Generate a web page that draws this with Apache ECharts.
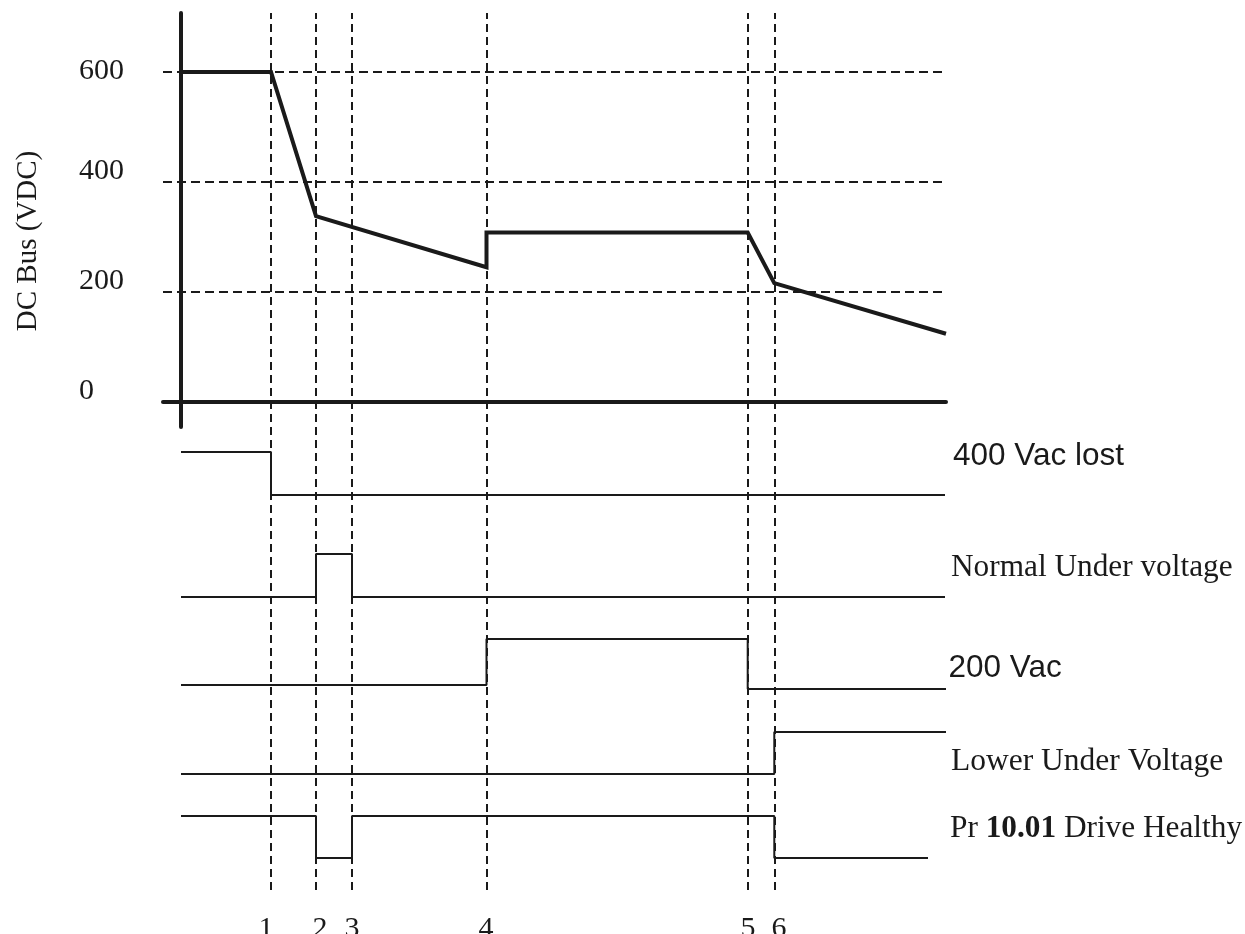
<!DOCTYPE html>
<html>
<head>
<meta charset="utf-8">
<script src="https://cdn.jsdelivr.net/npm/echarts@6/dist/echarts.min.js"></script>
<style>
html,body{margin:0;padding:0;background:#fff;}
#chart{width:1245px;height:934px;}
</style>
</head>
<body>
<div id="chart"></div>
<script>
// ---------- data ----------
const eventLabels = ['1', '2', '3', '4', '5', '6'];
const eventTimes = [9.0, 13.5, 17.1, 30.55, 56.67, 59.33];
const eventLabelTimes = [8.5, 13.9, 17.1, 30.5, 56.7, 59.8];
const voltTicks = [0, 200, 400, 600];
const voltGridLines = [200, 400, 600];

const dcTimes = [0, 9.0, 13.5, 30.55, 30.55, 56.67, 59.33, 76.5];
const dcVolts = [600, 600, 338, 245, 308, 308, 216, 124];

const signalNames = ['400 Vac lost', 'Normal Under voltage', '200 Vac', 'Lower Under Voltage', 'Pr {b|10.01} Drive Healthy'];

const acLostTimes = [0, 9.0, 76.4];
const acLostLevels = [1, 0, 0];
const normalUvTimes = [0, 13.5, 17.1, 76.4];
const normalUvLevels = [0, 1, 0, 0];
const ac200Times = [0, 30.55, 56.67, 76.5];
const ac200Levels = [0.08, 1, 0, 0];
const lowerUvTimes = [0, 59.33, 76.5];
const lowerUvLevels = [0, 1, 1];
const healthyTimes = [0, 13.5, 17.1, 59.33, 74.7];
const healthyLevels = [1, 0, 1, 0, 0];

// ---------- layout / style ----------
const SERIF = 'Liberation Serif';
const SANS = 'Liberation Sans';
const INK = '#1a1a1a';
const X_MIN = -1.8, X_MAX = 76.5;
const LEFT = 163, RIGHT = 299;

const signals = [
  {times: acLostTimes, levels: acLostLevels, top: 452, height: 43, lx: 953, ly: 456, font: SANS, size: 31.5},
  {times: normalUvTimes, levels: normalUvLevels, top: 554, height: 43, lx: 951, ly: 567.5, font: SERIF, size: 31.3},
  {times: ac200Times, levels: ac200Levels, top: 639, height: 50, lx: 948.5, ly: 668, font: SANS, size: 31.5},
  {times: lowerUvTimes, levels: lowerUvLevels, top: 732, height: 42, lx: 951, ly: 761.5, font: SERIF, size: 31.5},
  {times: healthyTimes, levels: healthyLevels, top: 816, height: 42, lx: 950, ly: 829, font: SERIF, size: 31.3}
];

const zip = (a, b) => a.map((v, i) => [v, b[i]]);

const gridBase = {left: LEFT, right: RIGHT, outerBoundsMode: 'none', containLabel: false};
const grids = [
  Object.assign({}, gridBase, {top: 13, height: 877}),   // overlay for event lines
  Object.assign({}, gridBase, {top: 13, height: 414})    // DC bus
];
const xAxes = [
  {
    type: 'value', gridIndex: 0, min: X_MIN, max: X_MAX,
    axisLine: {show: false}, axisTick: {show: false}, splitLine: {show: false},
    axisLabel: {
      customValues: eventLabelTimes,
      formatter: v => eventLabels[eventLabelTimes.indexOf(v)],
      fontFamily: SERIF, fontSize: 30, color: INK, verticalAlign: 'middle', margin: 39
    }
  },
  {
    type: 'value', gridIndex: 1, min: X_MIN, max: X_MAX,
    axisLine: {show: true, onZero: true, lineStyle: {color: INK, width: 4}},
    axisTick: {show: false}, splitLine: {show: false}, axisLabel: {show: false}
  }
];
const yAxes = [
  {type: 'value', gridIndex: 0, min: 0, max: 1, show: false},
  {
    type: 'value', gridIndex: 1, min: -45.5, max: 707.3,
    axisLine: {show: true, onZero: true, lineStyle: {color: INK, width: 4}},
    axisTick: {show: false}, splitLine: {show: false},
    name: 'DC Bus (VDC)', nameLocation: 'middle', nameGap: 120,
    nameTextStyle: {fontFamily: SERIF, fontSize: 29, color: INK, padding: [0, 42, 0, 0]},
    axisLabel: {
      customValues: voltTicks,
      align: 'left', margin: 84, verticalAlign: 'middle',
      fontFamily: SERIF, fontSize: 30, color: INK,
      formatter: v => (v === 600 ? '{t|' + v + '}' : '{n|' + v + '}'),
      rich: {
        t: {fontFamily: SERIF, fontSize: 30, color: INK, padding: [0, 0, 2, 0]},
        n: {fontFamily: SERIF, fontSize: 30, color: INK, padding: [0, 0, 22, 0]}
      }
    }
  }
];

const series = [
  {
    type: 'line', xAxisIndex: 0, yAxisIndex: 0, data: [[X_MIN, 0]], symbol: 'none',
    lineStyle: {opacity: 0}, silent: true, z: 1,
    markLine: {
      silent: true, symbol: ['none', 'none'], label: {show: false},
      lineStyle: {color: INK, width: 2, type: [8, 5]},
      data: eventTimes.map(t => ({xAxis: t}))
    }
  },
  {
    type: 'line', xAxisIndex: 1, yAxisIndex: 1, data: [[X_MIN, 0]], symbol: 'none',
    lineStyle: {opacity: 0}, silent: true, z: 1,
    markLine: {
      silent: true, symbol: ['none', 'none'], label: {show: false},
      lineStyle: {color: INK, width: 2, type: [9, 5]},
      data: voltGridLines.map(v => ({yAxis: v}))
    }
  },
  {
    type: 'line', xAxisIndex: 1, yAxisIndex: 1, data: zip(dcTimes, dcVolts),
    symbol: 'none', clip: false, z: 5,
    lineStyle: {color: INK, width: 4, join: 'miter'}
  }
];

signals.forEach((s) => {
  const gi = grids.length;
  grids.push(Object.assign({}, gridBase, {top: s.top, height: s.height}));
  xAxes.push({type: 'value', gridIndex: gi, min: X_MIN, max: X_MAX, show: false});
  yAxes.push({type: 'value', gridIndex: gi, min: 0, max: 1, show: false});
  series.push({
    type: 'line', xAxisIndex: gi, yAxisIndex: gi, data: zip(s.times, s.levels),
    step: 'end', symbol: 'none', clip: false, z: 5,
    lineStyle: {color: INK, width: 2}
  });
});

const chart = echarts.init(document.getElementById('chart'), null, {renderer: 'canvas'});
chart.setOption({
  animation: false,
  backgroundColor: '#fff',
  grid: grids, xAxis: xAxes, yAxis: yAxes, series: series,
  graphic: signals.map((s, i) => ({
    type: 'text', x: s.lx, y: s.ly, silent: true,
    style: {
      text: signalNames[i],
      fontFamily: s.font, fontSize: s.size, fill: INK,
      align: 'left', verticalAlign: 'middle',
      rich: {b: {fontFamily: SERIF, fontSize: s.size, fontWeight: 'bold', fill: INK}}
    }
  }))
});
</script>
</body>
</html>
